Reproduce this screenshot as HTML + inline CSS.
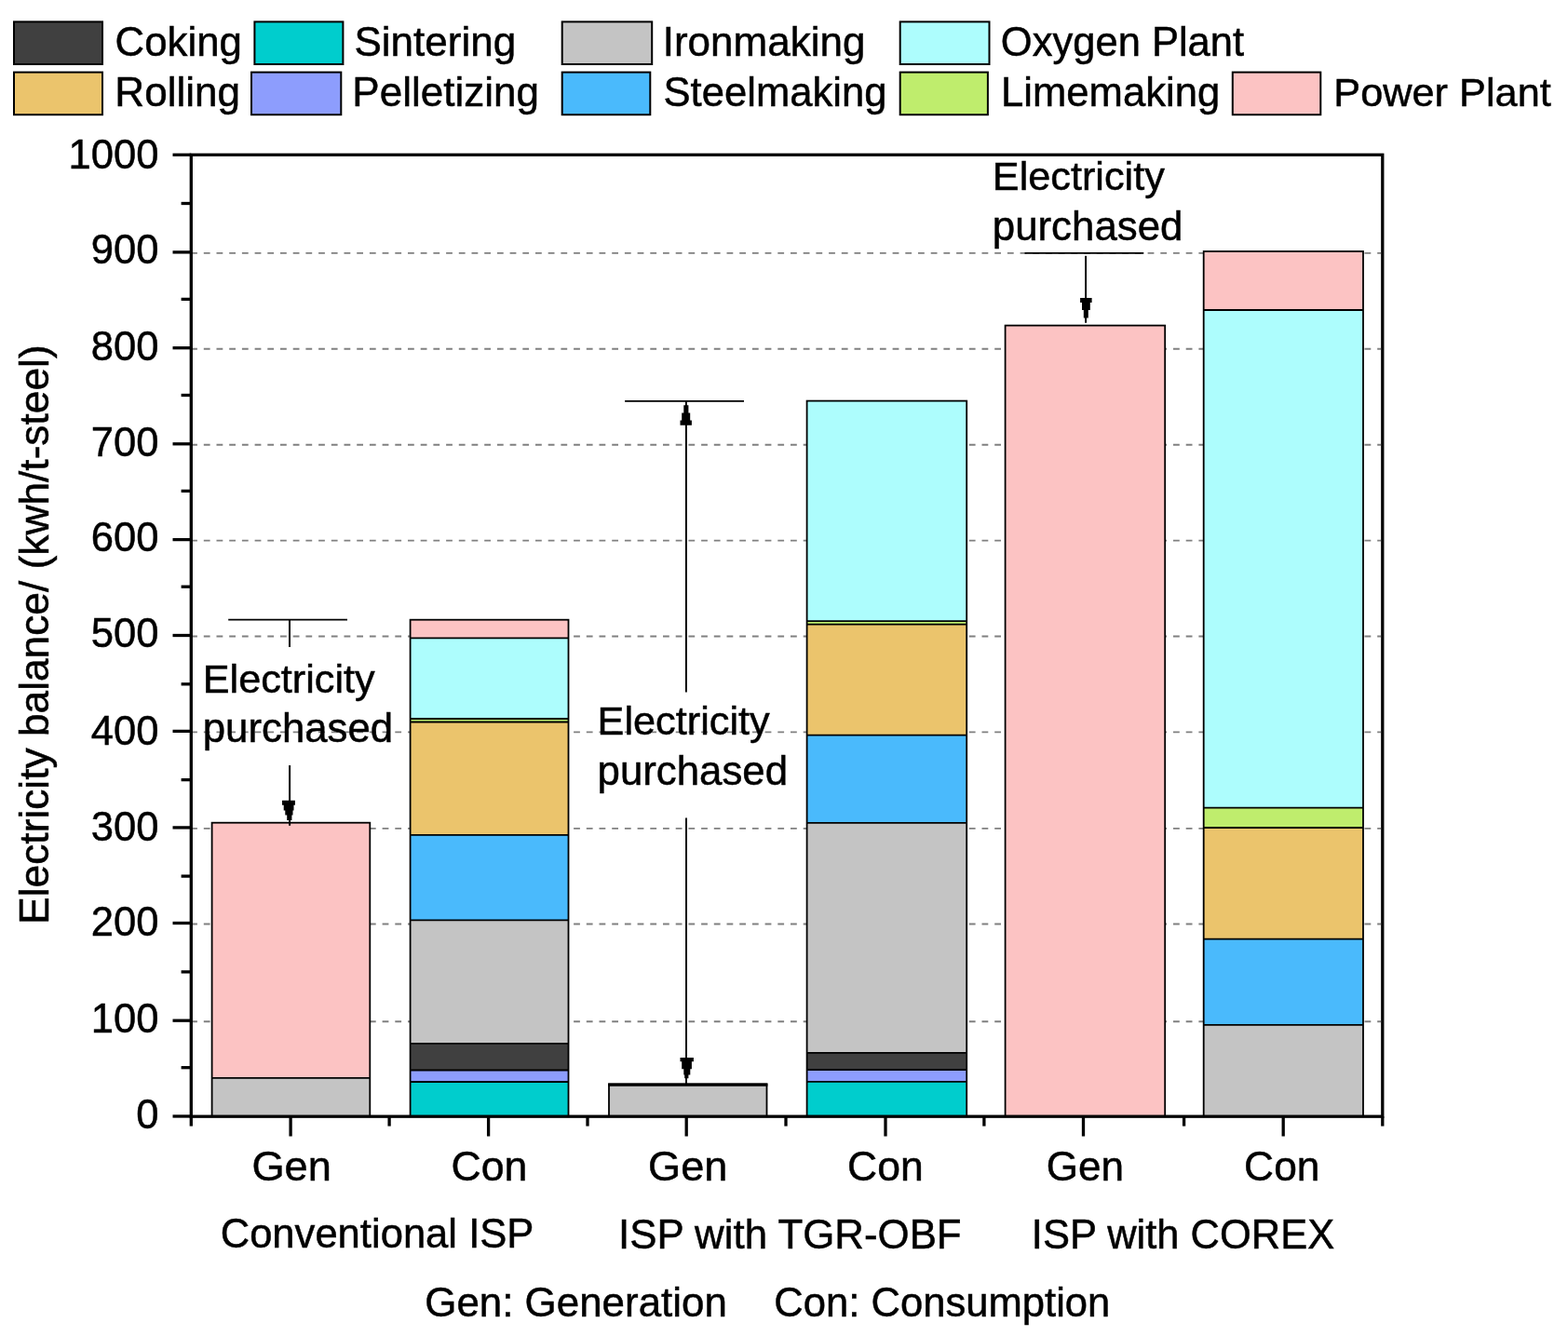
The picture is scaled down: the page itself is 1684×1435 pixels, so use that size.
<!DOCTYPE html>
<html><head><meta charset="utf-8"><title>Electricity balance</title>
<style>
html,body{margin:0;padding:0;background:#fff;overflow:hidden;}
svg{display:block;}
text{font-family:"Liberation Sans",Arial,sans-serif;fill:#000;stroke:#000;stroke-width:0.5px;}
</style></head>
<body>
<svg width="1684" height="1435" viewBox="0 0 1684 1435">
<rect x="0" y="0" width="1684" height="1435" fill="#fff"/>
<g id="legend">
<rect x="15.0" y="23.4" width="95.0" height="45.6" fill="#404040" stroke="#000" stroke-width="2"/>
<text x="123.55" y="60.10" font-size="43.79">Coking</text>
<rect x="273.4" y="23.4" width="95.0" height="45.6" fill="#00CDCD" stroke="#000" stroke-width="2"/>
<text x="380.42" y="60.10" font-size="44.05">Sintering</text>
<rect x="603.7" y="23.4" width="96.5" height="45.6" fill="#C4C4C4" stroke="#000" stroke-width="2"/>
<text x="711.66" y="60.10" font-size="44.03">Ironmaking</text>
<rect x="966.7" y="23.4" width="95.8" height="45.6" fill="#ADFDFD" stroke="#000" stroke-width="2"/>
<text x="1074.86" y="60.10" font-size="43.52">Oxygen Plant</text>
<rect x="15.0" y="77.6" width="95.0" height="45.6" fill="#EBC46C" stroke="#000" stroke-width="2"/>
<text x="123.35" y="114.20" font-size="44.10">Rolling</text>
<rect x="270.0" y="77.6" width="96.3" height="45.6" fill="#8D9DFD" stroke="#000" stroke-width="2"/>
<text x="378.36" y="114.20" font-size="43.99">Pelletizing</text>
<rect x="603.7" y="77.6" width="94.6" height="45.6" fill="#4ABAFC" stroke="#000" stroke-width="2"/>
<text x="712.54" y="114.20" font-size="43.62">Steelmaking</text>
<rect x="966.7" y="77.6" width="94.2" height="45.6" fill="#BFED6D" stroke="#000" stroke-width="2"/>
<text x="1075.09" y="114.20" font-size="43.62">Limemaking</text>
<rect x="1323.8" y="77.6" width="94.5" height="45.6" fill="#FCC3C3" stroke="#000" stroke-width="2"/>
<text x="1432.32" y="114.20" font-size="43.31">Power Plant</text>
</g>
<g id="grid" stroke="#808080" stroke-width="1.9" stroke-dasharray="6.8 6.9">
<line x1="205.1" y1="1097.2" x2="1483" y2="1097.2"/>
<line x1="205.1" y1="992.5" x2="1483" y2="992.5"/>
<line x1="205.1" y1="889.9" x2="1483" y2="889.9"/>
<line x1="205.1" y1="786.4" x2="1483" y2="786.4"/>
<line x1="205.1" y1="683.5" x2="1483" y2="683.5"/>
<line x1="205.1" y1="580.6" x2="1483" y2="580.6"/>
<line x1="205.1" y1="477.8" x2="1483" y2="477.8"/>
<line x1="205.1" y1="374.7" x2="1483" y2="374.7"/>
<line x1="205.1" y1="271.9" x2="1483" y2="271.9"/>
</g>
<g id="bars">
<rect x="227.6" y="1157.8" width="169.7" height="41.2" fill="#C4C4C4"/>
<rect x="227.6" y="883.7" width="169.7" height="274.1" fill="#FCC3C3"/>
<line x1="227.6" y1="1157.8" x2="397.3" y2="1157.8" stroke="#000" stroke-width="1.8"/>
<rect x="227.6" y="883.7" width="169.7" height="315.3" fill="none" stroke="#000" stroke-width="1.8"/>
<rect x="440.6" y="1162.0" width="169.9" height="37.0" fill="#00CDCD"/>
<rect x="440.6" y="1149.5" width="169.9" height="12.5" fill="#8D9DFD"/>
<rect x="440.6" y="1120.8" width="169.9" height="28.7" fill="#404040"/>
<rect x="440.6" y="988.3" width="169.9" height="132.5" fill="#C4C4C4"/>
<rect x="440.6" y="896.8" width="169.9" height="91.5" fill="#4ABAFC"/>
<rect x="440.6" y="775.5" width="169.9" height="121.3" fill="#EBC46C"/>
<rect x="440.6" y="772.0" width="169.9" height="3.5" fill="#BFED6D"/>
<rect x="440.6" y="685.4" width="169.9" height="86.5" fill="#ADFDFD"/>
<rect x="440.6" y="665.7" width="169.9" height="19.7" fill="#FCC3C3"/>
<line x1="440.6" y1="1162.0" x2="610.5" y2="1162.0" stroke="#000" stroke-width="1.8"/>
<line x1="440.6" y1="1149.5" x2="610.5" y2="1149.5" stroke="#000" stroke-width="1.8"/>
<line x1="440.6" y1="1120.8" x2="610.5" y2="1120.8" stroke="#000" stroke-width="1.8"/>
<line x1="440.6" y1="988.3" x2="610.5" y2="988.3" stroke="#000" stroke-width="1.8"/>
<line x1="440.6" y1="896.8" x2="610.5" y2="896.8" stroke="#000" stroke-width="1.8"/>
<line x1="440.6" y1="775.5" x2="610.5" y2="775.5" stroke="#000" stroke-width="1.8"/>
<line x1="440.6" y1="772.0" x2="610.5" y2="772.0" stroke="#000" stroke-width="1.8"/>
<line x1="440.6" y1="685.4" x2="610.5" y2="685.4" stroke="#000" stroke-width="1.8"/>
<rect x="440.6" y="665.7" width="169.9" height="533.3" fill="none" stroke="#000" stroke-width="1.8"/>
<rect x="654.0" y="1164.5" width="169.5" height="34.5" fill="#C4C4C4"/>
<rect x="654.0" y="1164.5" width="169.5" height="34.5" fill="none" stroke="#000" stroke-width="1.8"/>
<rect x="866.6" y="1161.9" width="171.6" height="37.1" fill="#00CDCD"/>
<rect x="866.6" y="1149.0" width="171.6" height="12.9" fill="#8D9DFD"/>
<rect x="866.6" y="1130.9" width="171.6" height="18.1" fill="#404040"/>
<rect x="866.6" y="883.8" width="171.6" height="247.1" fill="#C4C4C4"/>
<rect x="866.6" y="789.7" width="171.6" height="94.1" fill="#4ABAFC"/>
<rect x="866.6" y="670.7" width="171.6" height="119.1" fill="#EBC46C"/>
<rect x="866.6" y="667.1" width="171.6" height="3.6" fill="#BFED6D"/>
<rect x="866.6" y="430.6" width="171.6" height="236.5" fill="#ADFDFD"/>
<line x1="866.6" y1="1161.9" x2="1038.2" y2="1161.9" stroke="#000" stroke-width="1.8"/>
<line x1="866.6" y1="1149.0" x2="1038.2" y2="1149.0" stroke="#000" stroke-width="1.8"/>
<line x1="866.6" y1="1130.9" x2="1038.2" y2="1130.9" stroke="#000" stroke-width="1.8"/>
<line x1="866.6" y1="883.8" x2="1038.2" y2="883.8" stroke="#000" stroke-width="1.8"/>
<line x1="866.6" y1="789.7" x2="1038.2" y2="789.7" stroke="#000" stroke-width="1.8"/>
<line x1="866.6" y1="670.7" x2="1038.2" y2="670.7" stroke="#000" stroke-width="1.8"/>
<line x1="866.6" y1="667.1" x2="1038.2" y2="667.1" stroke="#000" stroke-width="1.8"/>
<rect x="866.6" y="430.6" width="171.6" height="768.4" fill="none" stroke="#000" stroke-width="1.8"/>
<rect x="1079.6" y="349.6" width="171.6" height="849.4" fill="#FCC3C3"/>
<rect x="1079.6" y="349.6" width="171.6" height="849.4" fill="none" stroke="#000" stroke-width="1.8"/>
<rect x="1292.7" y="1100.8" width="171.3" height="98.2" fill="#C4C4C4"/>
<rect x="1292.7" y="1008.7" width="171.3" height="92.1" fill="#4ABAFC"/>
<rect x="1292.7" y="889.0" width="171.3" height="119.7" fill="#EBC46C"/>
<rect x="1292.7" y="867.6" width="171.3" height="21.4" fill="#BFED6D"/>
<rect x="1292.7" y="333.0" width="171.3" height="534.6" fill="#ADFDFD"/>
<rect x="1292.7" y="270.0" width="171.3" height="63.0" fill="#FCC3C3"/>
<line x1="1292.7" y1="1100.8" x2="1464.0" y2="1100.8" stroke="#000" stroke-width="1.8"/>
<line x1="1292.7" y1="1008.7" x2="1464.0" y2="1008.7" stroke="#000" stroke-width="1.8"/>
<line x1="1292.7" y1="889.0" x2="1464.0" y2="889.0" stroke="#000" stroke-width="1.8"/>
<line x1="1292.7" y1="867.6" x2="1464.0" y2="867.6" stroke="#000" stroke-width="1.8"/>
<line x1="1292.7" y1="333.0" x2="1464.0" y2="333.0" stroke="#000" stroke-width="1.8"/>
<rect x="1292.7" y="270.0" width="171.3" height="929.0" fill="none" stroke="#000" stroke-width="1.8"/>
</g>
<line x1="653.1" y1="1165.1" x2="824.4" y2="1165.1" stroke="#000" stroke-width="3.4"/>
<g id="axes" stroke="#000" stroke-width="3.3" fill="none">
<rect x="205.3" y="166.3" width="1279.5" height="1032.9"/>
<line x1="185.5" y1="1199.0" x2="205.3" y2="1199.0"/>
<line x1="185.5" y1="1096.2" x2="205.3" y2="1096.2"/>
<line x1="185.5" y1="991.5" x2="205.3" y2="991.5"/>
<line x1="185.5" y1="888.9" x2="205.3" y2="888.9"/>
<line x1="185.5" y1="785.4" x2="205.3" y2="785.4"/>
<line x1="185.5" y1="682.5" x2="205.3" y2="682.5"/>
<line x1="185.5" y1="579.6" x2="205.3" y2="579.6"/>
<line x1="185.5" y1="476.8" x2="205.3" y2="476.8"/>
<line x1="185.5" y1="373.7" x2="205.3" y2="373.7"/>
<line x1="185.5" y1="270.9" x2="205.3" y2="270.9"/>
<line x1="185.5" y1="166.3" x2="205.3" y2="166.3"/>
<line x1="194.6" y1="218.5" x2="205.3" y2="218.5"/>
<line x1="194.6" y1="321.4" x2="205.3" y2="321.4"/>
<line x1="194.6" y1="424.5" x2="205.3" y2="424.5"/>
<line x1="194.6" y1="527.4" x2="205.3" y2="527.4"/>
<line x1="194.6" y1="630.2" x2="205.3" y2="630.2"/>
<line x1="194.6" y1="734.8" x2="205.3" y2="734.8"/>
<line x1="194.6" y1="837.6" x2="205.3" y2="837.6"/>
<line x1="194.6" y1="941.1" x2="205.3" y2="941.1"/>
<line x1="194.6" y1="1043.9" x2="205.3" y2="1043.9"/>
<line x1="194.6" y1="1146.7" x2="205.3" y2="1146.7"/>
<line x1="205.3" y1="1199.2" x2="205.3" y2="1209.6"/>
<line x1="312.1" y1="1199.2" x2="312.1" y2="1220.5"/>
<line x1="418.1" y1="1199.2" x2="418.1" y2="1209.6"/>
<line x1="524.6" y1="1199.2" x2="524.6" y2="1220.5"/>
<line x1="631.0" y1="1199.2" x2="631.0" y2="1209.6"/>
<line x1="737.2" y1="1199.2" x2="737.2" y2="1220.5"/>
<line x1="844.0" y1="1199.2" x2="844.0" y2="1209.6"/>
<line x1="951.0" y1="1199.2" x2="951.0" y2="1220.5"/>
<line x1="1056.9" y1="1199.2" x2="1056.9" y2="1209.6"/>
<line x1="1163.5" y1="1199.2" x2="1163.5" y2="1220.5"/>
<line x1="1271.6" y1="1199.2" x2="1271.6" y2="1209.6"/>
<line x1="1378.2" y1="1199.2" x2="1378.2" y2="1220.5"/>
<line x1="1484.8" y1="1199.2" x2="1484.8" y2="1209.6"/>
</g>
<g id="ylabels" text-anchor="end" font-size="43.6">
<text x="170.6" y="180.7">1000</text>
<text x="170.6" y="283.4">900</text>
<text x="170.6" y="386.5">800</text>
<text x="170.6" y="489.7">700</text>
<text x="170.6" y="592.3">600</text>
<text x="170.6" y="694.9">500</text>
<text x="170.6" y="799.6">400</text>
<text x="170.6" y="902.6">300</text>
<text x="170.6" y="1005.4">200</text>
<text x="170.6" y="1108.8">100</text>
<text x="170.6" y="1211.6">0</text>
</g>
<text transform="translate(51.8 992.76) rotate(-90)" font-size="44.28">Electricity balance/ (kwh/t-steel)</text>
<text x="270.38" y="1267.80" font-size="45.21">Gen</text>
<text x="484.40" y="1267.80" font-size="44.70">Con</text>
<text x="696.08" y="1267.80" font-size="45.16">Gen</text>
<text x="910.11" y="1267.80" font-size="44.53">Con</text>
<text x="1123.73" y="1267.80" font-size="44.09">Gen</text>
<text x="1336.12" y="1267.80" font-size="44.36">Con</text>
<text x="236.66" y="1340.20" font-size="43.58">Conventional ISP</text>
<text x="664.08" y="1340.80" font-size="43.83">ISP with TGR-OBF</text>
<text x="1107.80" y="1340.80" font-size="43.49">ISP with COREX</text>
<text x="456.24" y="1413.70" font-size="43.91">Gen: Generation</text>
<text x="831.16" y="1413.70" font-size="43.61">Con: Consumption</text>
<text x="217.72" y="743.80" font-size="43.24">Electricity</text>
<text x="217.76" y="797.30" font-size="43.77">purchased</text>
<text x="641.62" y="789.00" font-size="43.26">Electricity</text>
<text x="641.56" y="842.90" font-size="43.81">purchased</text>
<text x="1065.82" y="203.90" font-size="43.26">Electricity</text>
<text x="1065.76" y="258.00" font-size="43.83">purchased</text>
<g id="arrows" stroke="#000" fill="none">
<line x1="245.2" y1="665.6" x2="373" y2="665.6" stroke-width="1.9"/>
<line x1="311" y1="665.5" x2="311" y2="695.1" stroke-width="2"/>
<line x1="311.1" y1="822" x2="311.1" y2="886.8" stroke-width="2"/>
<polygon points="316.9,859.8 316.9,864.8 315.5,864.8 315.5,870.4 314.5,870.4 314.5,875.6 313.4,875.6 313.4,881.0 308.2,881.0 308.2,875.6 306.3,875.6 306.3,870.4 304.7,870.4 304.7,864.8 303.0,864.8 303.0,859.8" fill="#000" stroke="none"/>
<line x1="671.1" y1="430.9" x2="799" y2="430.9" stroke-width="1.9"/>
<line x1="736.9" y1="430.9" x2="736.9" y2="743.5" stroke-width="1.9"/>
<polygon points="742.9,456.8 742.9,451.4 741.2,451.4 741.2,443.5 739.4,443.5 739.4,435.3 734.3,435.3 734.3,443.5 732.2,443.5 732.2,451.4 730.5,451.4 730.5,456.8" fill="#000" stroke="none"/>
<line x1="737" y1="878.4" x2="737" y2="1164" stroke-width="1.9"/>
<polygon points="744.9,1136.0 744.9,1140.2 742.9,1140.2 742.9,1148.2 741.3,1148.2 741.3,1154.5 739.4,1154.5 739.4,1158.2 735.2,1158.2 735.2,1154.5 734.3,1154.5 734.3,1148.2 732.2,1148.2 732.2,1140.2 730.5,1140.2 730.5,1136.0" fill="#000" stroke="none"/>
<line x1="1100.5" y1="271.9" x2="1228.3" y2="271.9" stroke-width="1.9"/>
<line x1="1166.1" y1="274.8" x2="1166.1" y2="346.8" stroke-width="1.9"/>
<polygon points="1172.6,320.0 1172.6,324.9 1170.8,324.9 1170.8,333.0 1168.8,333.0 1168.8,341.4 1163.8,341.4 1163.8,333.0 1162.0,333.0 1162.0,324.9 1160.1,324.9 1160.1,320.0" fill="#000" stroke="none"/>
</g>
</svg>
</body></html>
